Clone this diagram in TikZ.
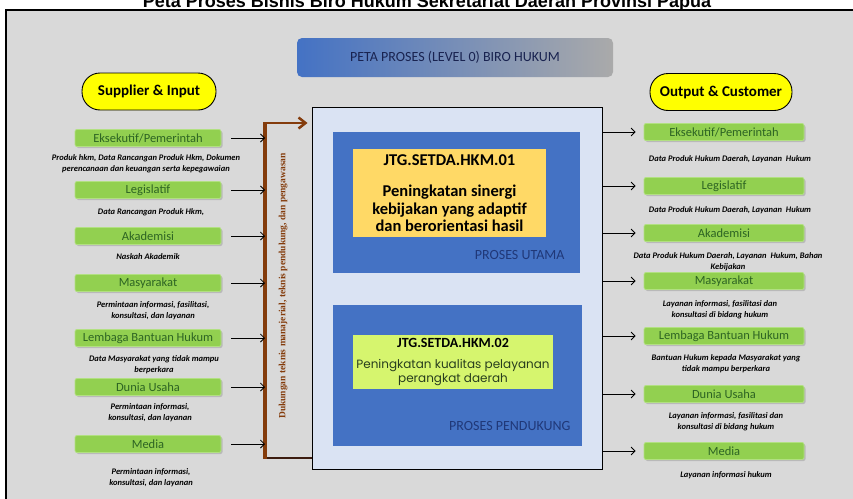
\documentclass[tikz,border=0pt]{standalone}
\usepackage{fontspec}
\setmainfont{Carlito}
\newfontfamily\titlefont{Liberation Sans}
\newfontfamily\sidefont{Liberation Serif}
\newfontfamily\gothfont{Poppins}
\usetikzlibrary{arrows.meta,shadows,positioning}

\definecolor{framegray}{RGB}{217,217,217}
\definecolor{boxgreen}{RGB}{146,208,80}
\definecolor{boxline}{RGB}{178,224,130}
\definecolor{greentext}{RGB}{45,100,35}
\definecolor{pillyellow}{RGB}{255,255,0}
\definecolor{procblue}{RGB}{68,114,196}
\definecolor{paleblue}{RGB}{218,227,243}
\definecolor{mainyellow}{RGB}{255,217,102}
\definecolor{suppgreen}{RGB}{214,245,110}
\definecolor{navytext}{RGB}{32,56,120}
\definecolor{headnavy}{RGB}{25,35,80}
\definecolor{olivetext}{RGB}{40,62,30}
\definecolor{barbrown}{RGB}{132,60,12}
\definecolor{bardark}{RGB}{60,28,15}
\definecolor{headgray}{RGB}{170,170,170}

\begin{document}
\begin{tikzpicture}[x=1pt,y=-1pt,
    actor/.style={rectangle, rounded corners=2pt, fill=boxgreen, draw=boxline,
      line width=0.8pt, minimum height=17pt, inner sep=0pt,
      font=\fontsize{12.5}{13}\selectfont, text=greentext,
      drop shadow={shadow xshift=1.5pt, shadow yshift=-1.5pt, opacity=0.35}},
    leftactor/.style={actor, minimum width=146pt},
    rightactor/.style={actor, minimum width=160pt},
    flowlabel/.style={font=\fontsize{8.5}{11}\selectfont\bfseries\itshape, align=center, inner sep=0pt},
    pill/.style={rectangle, rounded corners=18pt, fill=pillyellow, draw=black, line width=0.9pt,
      minimum height=37pt, font=\fontsize{15}{16}\selectfont\bfseries},
    flow/.style={-{Straight Barb[length=4pt,width=8pt]}, line width=0.8pt},
    procarea/.style={rectangle, fill=procblue, inner sep=0pt}]

    \useasboundingbox (0,0) rectangle (853,498);

    % Frame and title
    \fill[framegray] (6,10) rectangle (860,505);
    \draw[line width=1.8pt] (6,505) -- (6,10) -- (860,10);
    \node[anchor=base, font=\titlefont\fontsize{18}{20}\selectfont\bfseries] (title) at (427,7)
      {Peta Proses Bisnis Biro Hukum Sekretariat Daerah Provinsi Papua};

    % Header
    \node[rectangle, rounded corners=5pt, left color=procblue, right color=headgray,
      minimum width=316pt, minimum height=39pt, text=headnavy,
      font=\fontsize{14}{15}\selectfont] (header) at (455,57.5) {PETA PROSES (LEVEL 0) BIRO HUKUM};

    % Column heads
    \node[pill, minimum width=134pt] (supplier) at (149,91.5) {Supplier \& Input};
    \node[pill, minimum width=142pt] (customer) at (721,92) {Output \& Customer};

    % Process box
    \node[draw, fill=paleblue, line width=0.9pt, minimum width=290pt, minimum height=362pt] (proc) at (457,288) {};
    \node[procarea, minimum width=247pt, minimum height=141pt] (utama) at (456.5,202.5) {};
    \node[rectangle, fill=mainyellow, minimum width=193pt, minimum height=88pt, inner sep=0pt, align=center,
      font=\fontsize{16.5}{17.5}\selectfont\bfseries] (hkm1) at (449.5,193)
      {JTG.SETDA.HKM.01\\[14pt]Peningkatan sinergi\\kebijakan yang adaptif\\dan berorientasi hasil};
    \node[anchor=east, text=navytext, font=\fontsize{14}{15}\selectfont] (utamaLbl) at (568,255) {PROSES UTAMA};

    \node[procarea, minimum width=249pt, minimum height=141pt] (pendukung) at (457.5,375.5) {};
    \node[rectangle, fill=suppgreen, minimum width=200pt, minimum height=54pt, inner sep=0pt,
      align=center, text=olivetext, font=\gothfont\fontsize{12}{14}\selectfont] (hkm2) at (453,362)
      {{\rmfamily\bfseries\fontsize{14}{15}\selectfont\color{black}JTG.SETDA.HKM.02}\\[7pt]Peningkatan kualitas pelayanan\\perangkat daerah};
    \node[anchor=east, text=navytext, font=\fontsize{14}{15}\selectfont] (pendukungLbl) at (574,426) {PROSES PENDUKUNG};

    % Support bar
    \coordinate (barTop) at (265,123);
    \coordinate (barBot) at (265,458);
    \draw[bardark, line width=2.5pt] (barBot) -- (proc.west |- barBot);
    \draw[barbrown, line width=4.5pt] ([yshift=1pt]barTop) -- ([yshift=-1pt]barBot);
    \draw[barbrown, line width=2.5pt, -{Straight Barb[length=7pt,width=11pt]}] ([xshift=-2pt]barTop) -- ([xshift=-4pt]proc.west |- barTop);
    \node[rotate=90, text=barbrown, font=\sidefont\fontsize{9.5}{10}\selectfont\bfseries] (support) at (283,286)
      {Dukungan teknis manajerial, teknis pendukung, dan pengawasan};

    % Suppliers
    \node[leftactor] (l1) at (148,138) {Eksekutif/Pemerintah};
    \node[flowlabel] (in1) at (146,164) {Produk hkm, Data Rancangan Produk Hkm, Dokumen\\perencanaan dan keuangan serta kepegawaian};
    \node[leftactor] (l2) at (148,190) {Legislatif};
    \node[flowlabel] (in2) at (151,212) {Data Rancangan Produk Hkm,};
    \node[leftactor] (l3) at (148,236) {Akademisi};
    \node[flowlabel] (in3) at (148,257) {Naskah Akademik};
    \node[leftactor] (l4) at (148,283) {Masyarakat};
    \node[flowlabel] (in4) at (153,311) {Permintaan informasi, fasilitasi,\\konsultasi, dan layanan};
    \node[leftactor] (l5) at (148,338) {Lembaga Bantuan Hukum};
    \node[flowlabel] (in5) at (154,365) {Data Masyarakat yang tidak mampu\\berperkara};
    \node[leftactor] (l6) at (148,387) {Dunia Usaha};
    \node[flowlabel] (in6) at (150,413) {Permintaan informasi,\\konsultasi, dan layanan};
    \node[leftactor] (l7) at (148,444) {Media};
    \node[flowlabel] (in7) at (151,478) {Permintaan informasi,\\konsultasi, dan layanan};

    \draw[flow] ([xshift=10pt]l1.east) -- (barTop |- l1);
    \draw[flow] ([xshift=10pt]l2.east) -- (barTop |- l2);
    \draw[flow] ([xshift=10pt]l3.east) -- (barTop |- l3);
    \draw[flow] ([xshift=10pt]l4.east) -- (barTop |- l4);
    \draw[flow] ([xshift=10pt]l5.east) -- (barTop |- l5);
    \draw[flow] ([xshift=10pt]l6.east) -- (barTop |- l6);
    \draw[flow] ([xshift=10pt]l7.east) -- (barTop |- l7);

    % Customers
    \node[rightactor] (r1) at (724,132) {Eksekutif/Pemerintah};
    \node[flowlabel] (out1) at (730,159) {Data Produk Hukum Daerah, Layanan \ Hukum};
    \node[rightactor] (r2) at (724,186) {Legislatif};
    \node[flowlabel] (out2) at (730,210) {Data Produk Hukum Daerah, Layanan \ Hukum};
    \node[rightactor] (r3) at (724,233) {Akademisi};
    \node[flowlabel] (out3) at (728,262) {Data Produk Hukum Daerah, Layanan \ Hukum, Bahan\\Kebijakan};
    \node[rightactor] (r4) at (724,281) {Masyarakat};
    \node[flowlabel] (out4) at (720,310) {Layanan informasi, fasilitasi dan\\konsultasi di bidang hukum};
    \node[rightactor] (r5) at (724,336) {Lembaga Bantuan Hukum};
    \node[flowlabel] (out5) at (726,364) {Bantuan Hukum kepada Masyarakat yang\\tidak mampu berperkara};
    \node[rightactor] (r6) at (724,394) {Dunia Usaha};
    \node[flowlabel] (out6) at (726,422) {Layanan informasi, fasilitasi dan\\konsultasi di bidang hukum};
    \node[rightactor] (r7) at (724,451) {Media};
    \node[flowlabel] (out7) at (726,475) {Layanan informasi hukum};

    \draw[flow, shorten >=8pt] (proc.east |- r1) -- (r1.west);
    \draw[flow, shorten >=8pt] (proc.east |- r2) -- (r2.west);
    \draw[flow, shorten >=8pt] (proc.east |- r3) -- (r3.west);
    \draw[flow, shorten >=8pt] (proc.east |- r4) -- (r4.west);
    \draw[flow, shorten >=8pt] (proc.east |- r5) -- (r5.west);
    \draw[flow, shorten >=8pt] (proc.east |- r6) -- (r6.west);
    \draw[flow, shorten >=8pt] (proc.east |- r7) -- (r7.west);
\end{tikzpicture}
\end{document}
